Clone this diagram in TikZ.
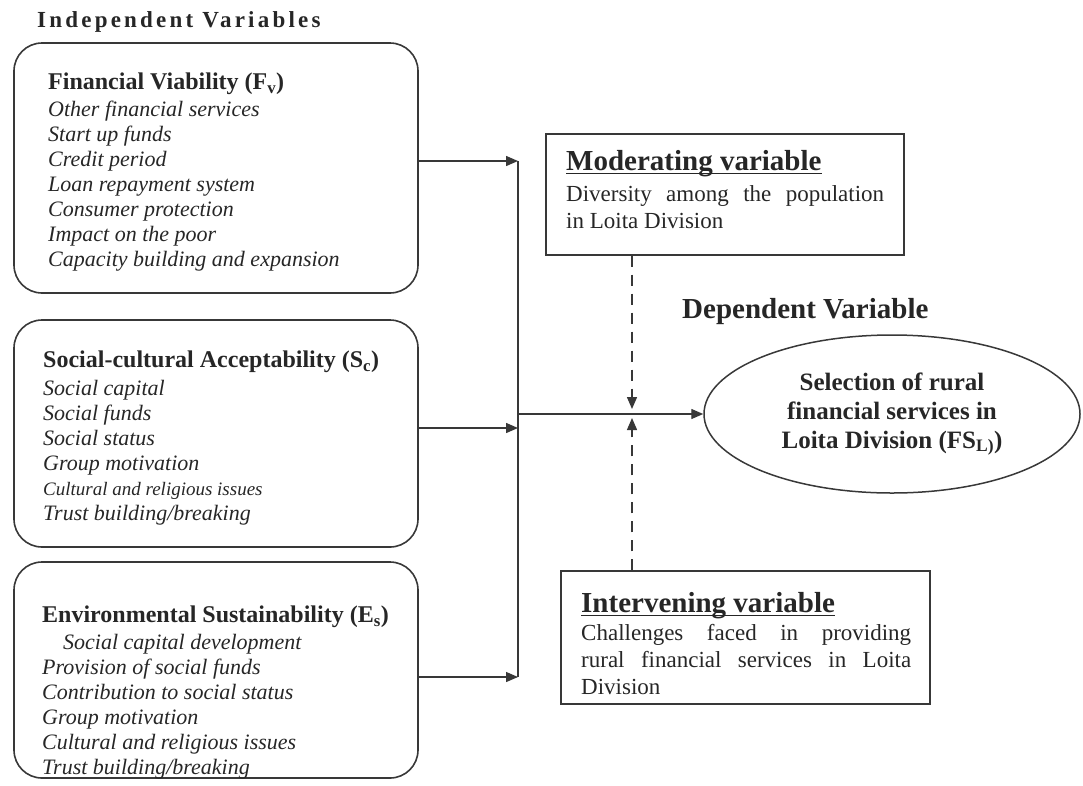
\documentclass[tikz,border=0pt]{standalone}
\usepackage{fontspec}
\setmainfont{Liberation Serif}
\newfontfamily\spacedfont[LetterSpace=14]{Liberation Serif}
\usetikzlibrary{shapes.geometric,arrows.meta}
\setlength{\parindent}{0pt}

\colorlet{line ink}{black!78}
\colorlet{text ink}{black!85}
\newcommand{\ulhead}[1]{\setbox0\hbox{#1}\rlap{\rule[-4pt]{\wd0}{1.8pt}}\box0}

\tikzset{
  indep box/.style={draw=line ink, line width=1.6pt, rounded corners=28pt, minimum width=404pt},
  side box/.style={draw=line ink, line width=1.3pt},
  box text/.style={anchor=north west, inner sep=0pt, text=text ink, align=left,
    font=\fontsize{22}{25}\selectfont\itshape},
  side text/.style={anchor=north west, inner sep=0pt, text=text ink, align=justify,
    font=\fontsize{23}{27}\selectfont},
  conn/.style={draw=line ink, line width=1.4pt, -{Triangle[length=12pt,width=10pt]}},
  dash conn/.style={conn, dash pattern=on 11pt off 8pt}
}
\tikzstyle{title}=[inner sep=0pt, text=text ink]

\begin{document}
\begin{tikzpicture}[x=1pt,y=-1pt]
    \useasboundingbox (0,0) rectangle (1083,785);

    % Independent variables
    \node[title, anchor=west] (indep) at (37,22) {\spacedfont\bfseries\fontsize{23}{27}\selectfont Independent Variables};

    \node[indep box, minimum height=250pt] (fv) at (216,168) {};
    \node[indep box, minimum height=227pt] (sc) at (216,433.5) {};
    \node[indep box, minimum height=216pt] (es) at (216,670) {};

    \node[box text] (fvtext) at (48,73) {{\upshape\bfseries\fontsize{24}{27}\selectfont Financial Viability (F\textsubscript{v})}\\[2pt]
      Other financial services\\ Start up funds\\ Credit period\\ Loan repayment system\\
      Consumer protection\\ Impact on the poor\\ Capacity building and expansion};
    \node[box text] (sctext) at (43,351) {{\upshape\bfseries\fontsize{24}{27}\selectfont Social-cultural Acceptability (S\textsubscript{c})}\\[3pt]
      Social capital\\ Social funds\\ Social status\\ Group motivation\\
      {\fontsize{19}{25}\selectfont Cultural and religious issues}\\ Trust building/breaking};
    \node[box text] (estext) at (42,606) {{\upshape\bfseries\fontsize{24}{27}\selectfont Environmental Sustainability (E\textsubscript{s})}\\[2pt]
      \hspace*{21pt}Social capital development\\ Provision of social funds\\ Contribution to social status\\
      Group motivation\\ Cultural and religious issues\\ Trust building/breaking};

    % Moderating and intervening variables
    \node[side box, minimum width=358pt, minimum height=121pt] (mv) at (725,194.5) {};
    \node[side text, text width=318pt] (mvtext) at (566,150) {{\bfseries\fontsize{29}{33}\selectfont\ulhead{Moderating variable}\par}\vspace{4pt}
      Diversity among the population\linebreak in Loita Division};

    \node[side box, minimum width=369pt, minimum height=133pt] (iv) at (745.5,637.5) {};
    \node[side text, text width=330pt] (ivtext) at (581,592) {{\bfseries\fontsize{29}{33}\selectfont\ulhead{Intervening variable}\par}\vspace{1pt}
      Challenges faced in providing\linebreak rural financial services in Loita\linebreak Division};

    % Dependent variable
    \node[title, anchor=west, font=\bfseries\fontsize{29}{33}\selectfont] (dep) at (682,312) {Dependent Variable};
    \node[ellipse, draw=line ink, line width=1.5pt, minimum width=376pt, minimum height=158pt, inner sep=0pt,
      align=center, text=text ink, font=\bfseries\fontsize{25}{29}\selectfont] (fs) at (892,414)
      {Selection of rural\\ financial services in\\ Loita Division (FS\textsubscript{L)})};

    % Junctions
    \coordinate (j1) at (518,161);
    \coordinate (j2) at (518,428);
    \coordinate (j3) at (518,677);
    \coordinate (jm) at (518,414);
    \coordinate (dm) at (632,414);

    \foreach \src/\jn in {fv/j1, sc/j2, es/j3} {
      \draw[conn] (\src.east |- \jn) -- (\jn);
    }
    \draw[line ink, line width=1.4pt] (j1) -- (j3);
    \draw[conn] (jm) -- (fs.west);
    \draw[dash conn] (mv.south -| dm) -- ([yshift=5pt]dm);
    \draw[dash conn] (iv.north -| dm) -- ([yshift=-4pt]dm);
\end{tikzpicture}
\end{document}
